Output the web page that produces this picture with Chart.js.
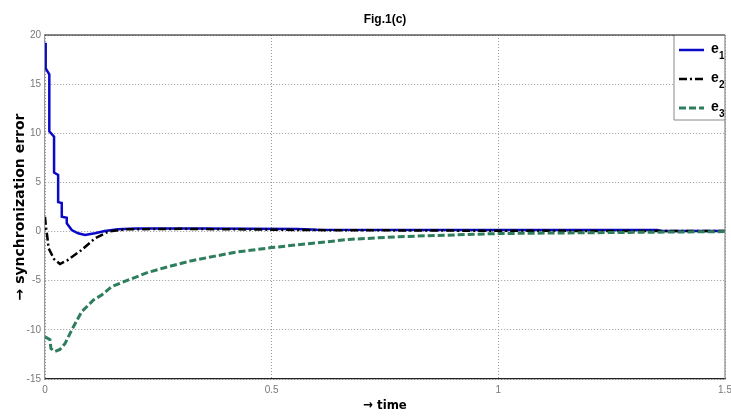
<!DOCTYPE html>
<html>
<head>
<meta charset="utf-8">
<script src="https://cdn.jsdelivr.net/npm/chart.js@4/dist/chart.umd.min.js"></script>
<style>
  html, body { margin: 0; padding: 0; background: #fff; }
  #wrap { width: 731px; height: 419px; }
</style>
</head>
<body>
<div id="wrap"><canvas id="FigChart"></canvas></div>
<script>
// values
var seriesNames = ["e1", "e2", "e3"];

var e1Time = [0, 0.0015, 0.0095, 0.0095, 0.02, 0.02, 0.029, 0.029, 0.037, 0.037, 0.048, 0.048, 0.059, 0.073, 0.088, 0.11, 0.132, 0.161, 0.2, 0.35, 0.556, 0.6, 1.0, 1.35, 1.36, 1.5];
var e1Vals = [19.2, 16.6, 16.0, 10.2, 9.65, 6.0, 5.76, 3.0, 2.9, 1.5, 1.4, 0.85, 0.16, -0.17, -0.35, -0.17, 0.06, 0.23, 0.3, 0.3, 0.25, 0.18, 0.17, 0.16, 0.05, 0.05];

var e2Time = [0, 0.002, 0.005, 0.008, 0.02, 0.033, 0.05, 0.08, 0.11, 0.14, 0.18, 0.3, 0.6, 1.0, 1.5];
var e2Vals = [1.5, 0.5, -0.5, -1.7, -2.8, -3.3, -2.9, -1.9, -0.7, 0.0, 0.23, 0.28, 0.15, 0.08, 0.05];

var e3Time = [0, 0.011, 0.013, 0.022, 0.033, 0.044, 0.0625, 0.081, 0.107, 0.125, 0.147, 0.184, 0.228, 0.272, 0.324, 0.375, 0.42, 0.5, 0.67, 0.78, 1.0, 1.24, 1.5];
var e3Vals = [-10.7, -11.0, -11.9, -12.2, -12.0, -11.4, -9.7, -8.15, -6.96, -6.45, -5.6, -4.92, -4.14, -3.57, -2.96, -2.5, -2.1, -1.63, -0.8, -0.52, -0.2, -0.1, 0.0];

var xTicks = [0, 0.5, 1, 1.5];
var yTicks = [-15, -10, -5, 0, 5, 10, 15, 20];

var sans = "'Liberation Sans', Arial, sans-serif";
var wide = "'DejaVu Sans', sans-serif";
var cond = "'DejaVu Sans Condensed', 'DejaVu Sans', sans-serif";

function toPoints(times, vals) {
    return times.map(function (t, i) {
        return { x: t, y: vals[i] };
    });
}

// top and right edges of the box
var framePlugin = {
    id: "frame",
    afterDraw: function (chart) {
        var ctx = chart.ctx, a = chart.chartArea;
        ctx.save();
        ctx.lineWidth = 1.2;
        ctx.strokeStyle = "#111";
        ctx.beginPath();
        ctx.moveTo(a.left, a.top);
        ctx.lineTo(a.right, a.top);
        ctx.stroke();
        ctx.strokeStyle = "#888";
        ctx.beginPath();
        ctx.moveTo(a.right, a.top);
        ctx.lineTo(a.right, a.bottom);
        ctx.stroke();
        ctx.restore();
    }
};

// matlab style legend box in the top right corner, with subscripts
var legendPlugin = {
    id: "matLegend",
    afterDatasetsDraw: function (chart) {
        var ctx = chart.ctx, a = chart.chartArea;
        var left = a.right - 51, top = a.top, bottom = a.top + 85;
        ctx.save();
        ctx.fillStyle = "#fff";
        ctx.fillRect(left, top, a.right - left, bottom - top);
        ctx.strokeStyle = "#888";
        ctx.lineWidth = 1;
        ctx.beginPath();
        ctx.moveTo(left, top);
        ctx.lineTo(left, bottom);
        ctx.lineTo(a.right, bottom);
        ctx.stroke();
        chart.data.datasets.forEach(function (ds, i) {
            var y = top + 15 + i * 29;
            ctx.strokeStyle = ds.borderColor;
            ctx.lineWidth = ds.borderWidth;
            ctx.setLineDash(ds.borderDash || []);
            ctx.beginPath();
            ctx.moveTo(left + 5, y);
            ctx.lineTo(left + 30, y);
            ctx.stroke();
            ctx.setLineDash([]);
            ctx.fillStyle = "#000";
            ctx.textBaseline = "alphabetic";
            ctx.font = "bold 14px " + sans;
            ctx.fillText(ds.label.charAt(0), left + 37, y + 3);
            ctx.font = "bold 10px " + sans;
            ctx.fillText(ds.label.slice(1), left + 45, y + 9);
        });
        ctx.restore();
    }
};

var ctxFig = document.getElementById("FigChart").getContext("2d");
var figChart = new Chart(ctxFig, {
    type: "line",
    data: {
        datasets: [{
            label: seriesNames[0],
            data: toPoints(e1Time, e1Vals),
            borderColor: "rgb(10, 10, 200)",
            borderWidth: 2.5,
            order: 3
        },
        {
            label: seriesNames[1],
            data: toPoints(e2Time, e2Vals),
            borderColor: "rgb(0, 0, 0)",
            borderWidth: 2.5,
            borderDash: [8, 3, 2, 3],
            order: 2
        },
        {
            label: seriesNames[2],
            data: toPoints(e3Time, e3Vals),
            borderColor: "rgb(46, 125, 92)",
            borderWidth: 3,
            borderDash: [7, 3],
            order: 1
        }]
    },
    options: {
        responsive: true,
        maintainAspectRatio: false,
        animation: false,
        elements: {
            point: { radius: 0 },
            line: { tension: 0, fill: false }
        },
        layout: { padding: { left: 0, right: 6, top: 0, bottom: 0 } },
        plugins: {
            legend: { display: false },
            tooltip: { enabled: false },
            title: {
                display: true,
                text: "Fig.1(c)",
                fullSize: false,
                color: "#000",
                font: { family: sans, size: 12, weight: "bold" },
                padding: { top: 12, bottom: 8.6 }
            }
        },
        scales: {
            x: {
                type: "linear",
                min: 0,
                max: 1.5,
                afterBuildTicks: function (scale) {
                    scale.ticks = xTicks.map(function (v) { return { value: v }; });
                },
                afterFit: function (scale) {
                    scale.height = 40;
                    scale.paddingLeft = 0;
                    scale.paddingRight = 0;
                },
                ticks: {
                    color: "#777",
                    font: { family: sans, size: 10 },
                    padding: 5,
                    maxRotation: 0,
                    callback: function (v) { return String(v); }
                },
                grid: { color: "#999", drawTicks: false },
                border: { color: "#222", width: 1.2, dash: [1, 2] },
                title: {
                    display: true,
                    text: "\u2192 time",
                    color: "#000",
                    font: { family: cond, size: 13, weight: "bold" },
                    padding: { top: 0, bottom: 6 }
                }
            },
            y: {
                type: "linear",
                min: -15,
                max: 20,
                afterBuildTicks: function (scale) {
                    scale.ticks = yTicks.map(function (v) { return { value: v }; });
                },
                afterFit: function (scale) { scale.width = 45; },
                ticks: {
                    color: "#777",
                    font: { family: sans, size: 10 },
                    padding: 4,
                    callback: function (v) { return String(v); }
                },
                grid: { color: "#999", drawTicks: false },
                border: { color: "#999", width: 1.2, dash: [1, 2] },
                title: {
                    display: true,
                    text: "\u2192 synchronization error",
                    color: "#000",
                    font: { family: wide, size: 14, weight: "bold" },
                    padding: { top: 12, bottom: 0 }
                }
            }
        }
    },
    plugins: [framePlugin, legendPlugin]
});
</script>
</body>
</html>
